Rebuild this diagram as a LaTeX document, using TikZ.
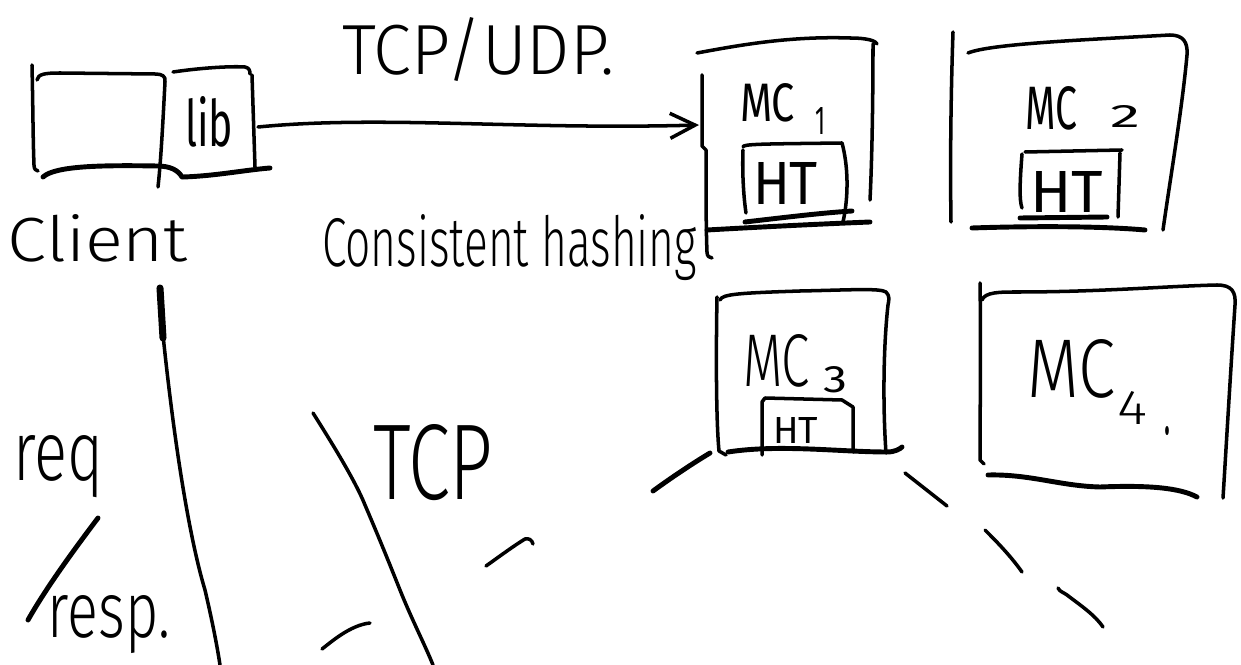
\documentclass[tikz,border=0pt]{standalone}
\usepackage{fontspec}
\newfontfamily\handfont{Fira Sans Light}
\newfontfamily\handbfont{Fira Sans}
\usetikzlibrary{arrows.meta}
\newlength\pxu
\setlength\pxu{0.02cm}
\newcommand\hand[3]{\resizebox{#1\pxu}{#2\pxu}{\handfont #3}}
\newcommand\handb[3]{\resizebox{#1\pxu}{#2\pxu}{\handbfont #3}}
\begin{document}
\begin{tikzpicture}[x=0.02cm, y=-0.02cm,
  pen/.style={line width=2pt, line cap=round, line join=round},
  heavy/.style={line width=2.8pt, line cap=round, line join=round},
  txt/.style={inner sep=0pt, outer sep=0pt, anchor=base west},
  frame/.style={draw=none, inner sep=0pt, outer sep=0pt}]
\fill[white] (0,0) rectangle (1241,665);
\useasboundingbox (0,0) rectangle (1241,665);

% invisible frames used by the connector
\node[frame, minimum width=90\pxu, minimum height=98\pxu] (libbox) at (213,127) {};
\node[frame, minimum width=174\pxu, minimum height=170\pxu] (mc1box) at (786,125) {};

% ---- client box ----
\draw[pen] (32,65) .. controls (33,110) and (33,140) .. (34,165) .. controls (34,169) and (36,171) .. (38,171);
\draw[pen] (37,80) .. controls (38,74) and (45,73) .. (60,73) -- (155,74) .. controls (162,74) and (166,76) .. (165,82) .. controls (163,120) and (161,160) .. (158,187);
\draw[heavy] (43,177) .. controls (55,166) and (100,165) .. (157,166) .. controls (170,166) and (178,170) .. (182,177);
% lib box
\draw[pen] (173,72) .. controls (200,68) and (230,66) .. (245,67) .. controls (249,68) and (250,70) .. (250,74);
\draw[pen] (252,75) -- (255,167);
\draw[heavy] (183,177) .. controls (215,176) and (245,170) .. (270,168);

% ---- arrow lib -> MC1 ----
\draw[pen, -{Straight Barb[length=0.5cm, width=0.5cm]}] (libbox.east) .. controls (380,115) and (520,130) .. (mc1box.west);

% ---- MC1 ----
\draw[pen] (697,53) .. controls (740,45) and (790,36) .. (850,38) .. controls (868,38) and (876,41) .. (877,44);
\draw[pen] (873,44) .. controls (873,100) and (872,160) .. (870,200);
\draw[pen] (702,75) -- (702,146) -- (706,150) .. controls (706,190) and (706,230) .. (707,252) .. controls (707,256) and (709,258) .. (712,258);
\draw[heavy] (707,230) .. controls (760,227) and (820,224) .. (870,222);
\draw[pen] (743,147) .. controls (743,144) and (760,144) .. (842,143) .. controls (848,165) and (849,195) .. (843,222);
\draw[pen] (743,150) .. controls (742,175) and (744,200) .. (746,213);
\draw[heavy] (745,222) .. controls (780,218) and (820,213) .. (852,211);

% ---- MC2 ----
\draw[pen] (953,32) .. controls (951,90) and (950,160) .. (951,222);
\draw[pen] (968,53) .. controls (990,44) and (1080,40) .. (1170,35) .. controls (1183,35) and (1188,42) .. (1187,55) .. controls (1182,110) and (1170,180) .. (1163,230);
\draw[heavy] (972,228) .. controls (1030,226) and (1100,226) .. (1145,230);
\draw[pen] (1025,152) -- (1122,150);
\draw[pen] (1120,153) -- (1118,217);
\draw[pen] (1022,154) .. controls (1020,180) and (1019,200) .. (1022,208);
\draw[heavy] (1020,218) -- (1107,217);

% ---- MC3 ----
\draw[pen] (720,300) .. controls (722,294) and (740,293) .. (800,291) .. controls (850,290) and (880,288) .. (886,292) .. controls (890,296) and (889,300) .. (888,305) .. controls (883,350) and (883,410) .. (886,453);
\draw[pen] (717,297) .. controls (716,350) and (716,420) .. (719,451) -- (726,455);
\draw[heavy] (728,452) .. controls (780,444) and (840,452) .. (887,452) .. controls (895,452) and (900,449) .. (902,447);
\draw[pen] (762,455) -- (762,402) -- (765,398) -- (842,400) -- (853,407) -- (853,452);

% ---- MC4 ----
\draw[pen] (980,283) .. controls (981,340) and (980,420) .. (980,460) -- (984,464);
\draw[pen] (982,300) .. controls (985,292) and (1000,292) .. (1017,292) .. controls (1100,292) and (1170,286) .. (1217,285) .. controls (1232,285) and (1236,292) .. (1235,305) .. controls (1230,380) and (1226,450) .. (1223,498);
\draw[heavy] (988,475) .. controls (1030,474) and (1060,486) .. (1100,487) .. controls (1150,485) and (1180,488) .. (1197,497);

% ---- lower strokes ----
\draw[line width=4pt, line cap=round] (160,288) -- (163,338);
\draw[pen] (163,335) .. controls (175,450) and (190,540) .. (205,590) .. controls (212,620) and (217,645) .. (220,665);
\draw[pen] (313,413) .. controls (330,440) and (355,480) .. (365,505) .. controls (380,540) and (390,565) .. (400,590) .. controls (412,620) and (425,645) .. (433,665);
\draw[heavy] (98,518) .. controls (70,555) and (45,590) .. (28,620);
\draw[heavy] (653,491) .. controls (675,475) and (695,462) .. (710,453);
\draw[pen] (905,473) -- (947,506);
\draw[pen] (486,566) .. controls (500,556) and (515,545) .. (525,539) .. controls (529,538) and (532,540) .. (533,544);
\draw[pen] (985,530) .. controls (995,540) and (1010,555) .. (1022,572);
\draw[pen] (1058,588) .. controls (1060,592) and (1063,592) .. (1067,595) .. controls (1080,605) and (1095,615) .. (1103,627);
\draw[pen] (322,649) .. controls (330,643) and (350,625) .. (370,623);

% ---- texts ----
\node[txt] (tcpudp) at (342,75) {\hand{273}{57}{TCP/UDP.}};
\node[txt] (lib) at (185,147) {\handb{48}{50}{lib}};
\node[txt] (client) at (8,262) {\hand{180}{47}{Client}};
\node[txt] (hashing) at (322,267) {\hand{375}{52}{Consistent hashing}};
\node[txt] (mc1) at (740,122) {\handb{55}{38}{MC}};
\node[txt] (mc1s) at (815,135) {\handb{10}{27}{1}};
\node[txt] (ht1) at (753,205) {\handb{65}{42}{HT}};
\node[txt] (mc2) at (1025,130) {\handb{52}{43}{MC}};
\node[txt] (mc2s) at (1110,128) {\handb{30}{22}{2}};
\node[txt] (ht2) at (1030,213) {\handb{73}{41}{HT}};
\node[txt] (mc3) at (743,387) {\hand{67}{52}{MC}};
\node[txt] (mc3s) at (823,393) {\handb{24}{26}{3}};
\node[txt] (ht3) at (773,443) {\handb{45}{26}{HT}};
\node[txt] (mc4) at (1027,398) {\hand{88}{58}{MC}};
\node[txt] (mc4s) at (1117,425) {\hand{30}{33}{4}};
\node[txt] (mc4d) at (1163,435) {\hand{8}{8}{.}};
\node[txt] (tcp) at (373,500) {\hand{120}{75}{TCP}};
\node[txt] (req) at (13,480) {\hand{90}{45}{req}};
\node[txt] (resp) at (48,637) {\hand{122}{42}{resp.}};
\end{tikzpicture}
\end{document}
